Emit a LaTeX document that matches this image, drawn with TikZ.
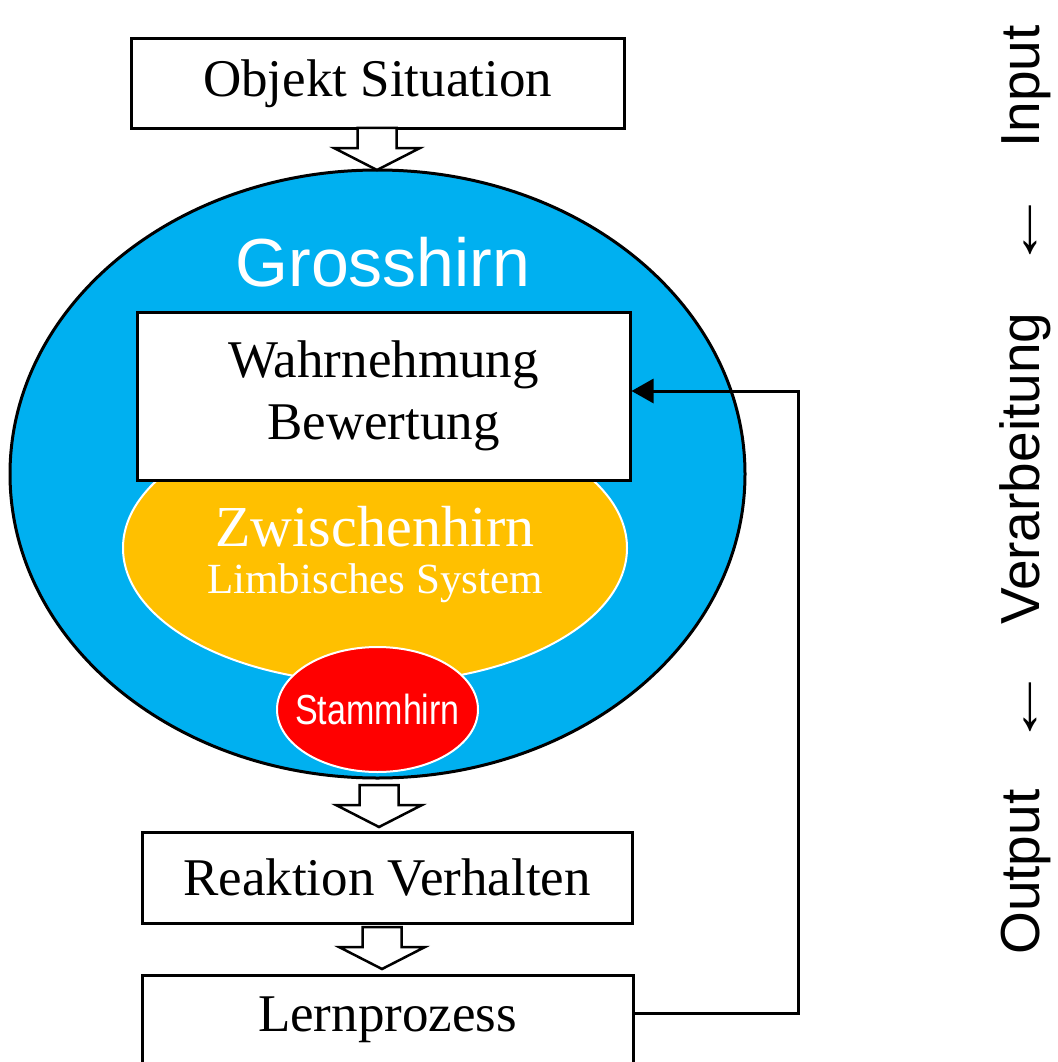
\documentclass[tikz,border=0pt]{standalone}
\usepackage{fontspec}
\setmainfont{Liberation Serif}
\setsansfont{Liberation Sans}
\usetikzlibrary{shapes.geometric, arrows.meta, positioning}
\definecolor{hirnblau}{HTML}{00B0F0}
\definecolor{hirnorange}{HTML}{FFC000}
\definecolor{hirnrot}{HTML}{FF0000}
\tikzset{>={Triangle[length=22pt,width=24pt]}}

\begin{document}
\begin{tikzpicture}[x=1pt,y=-1pt,
	box/.style={draw, line width=3pt, fill=white, inner sep=0pt, align=center, font=\fontsize{53}{62}\selectfont},
	hirn/.style={ellipse, inner sep=0pt},
	blockpfeil/.pic={\draw[line width=2.5pt, fill=white] (-19.5,0) -- (19.5,0) -- (19.5,20) -- (43,20) -- (0,42) -- (-43,20) -- (-19.5,20) -- cycle;}]
	\useasboundingbox (0,0) rectangle (1057,1062);
	% Gehirn
	\node [hirn, draw, line width=3pt, fill=hirnblau, minimum width=735pt, minimum height=608pt] (gross) at (377.5,474) {};
	\node [text=white, font=\sffamily\fontsize{68}{70}\selectfont] (grosstext) at (383,262) {Grosshirn};
	\node [hirn, draw=white, line width=2pt, fill=hirnorange, minimum width=504pt, minimum height=270pt] (zwischen) at (375,548) {};
	\node [text=white, font=\fontsize{58}{60}\selectfont] (zwtext) at (375,527) {Zwischenhirn};
	\node [text=white, font=\fontsize{43}{45}\selectfont] (limbtext) at (375,583) {Limbisches System};
	\node [hirn, draw=white, line width=2pt, fill=hirnrot, minimum width=201pt, minimum height=125pt] (stamm) at (377.5,709.5) {};
	\node [text=white, font=\sffamily\fontsize{42}{44}\selectfont] (stammtext) at (stamm) {\scalebox{0.81}[1]{Stammhirn}};
	% Kaesten
	\node [box, minimum width=493pt, minimum height=90pt] (objekt) at (377.5,84) {Objekt Situation};
	\node [box, minimum width=493pt, minimum height=168pt] (wahr) at (383.5,396) {Wahrnehmung\\Bewertung};
	\node [box, minimum width=490pt, minimum height=91pt] (reaktion) at (387,878) {Reaktion Verhalten};
	\node [box, minimum width=491pt, minimum height=90pt] (lern) at (387.5,1020) {Lernprozess};
	% Pfeile
	\pic at (377,128) {blockpfeil};
	\pic at (379,785) {blockpfeil};
	\pic at (382,927) {blockpfeil};
	\coordinate (rueck) at (798,391);
	\draw [line width=3pt, ->] ([yshift=7pt]lern.east) -| (rueck) -- (wahr.east |- rueck);
	% Ablauf
	\node [rotate=90, font=\sffamily\fontsize{55}{60}\selectfont] (ablauf) at (1025,490) {Output\hspace{0.75em}\scalebox{1.5}[1]{←}\hspace{0.75em}Verarbeitung\hspace{0.75em}\scalebox{1.5}[1]{←}\hspace{0.75em}Input};
\end{tikzpicture}
\end{document}
